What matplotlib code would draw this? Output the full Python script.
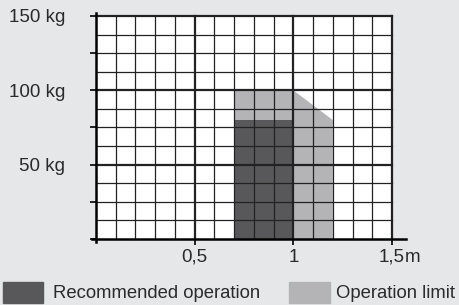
import numpy as np
import matplotlib
matplotlib.use('Agg')
import matplotlib.pyplot as plt
from matplotlib.patches import Rectangle

plt.rcParams['font.family'] = ['Liberation Sans', 'DejaVu Sans']

# data
rec_x = [0.7, 0.7, 1.0, 1.0]
rec_y = [0, 80, 80, 0]
lim_x = [0.7, 0.7, 1.0, 1.2, 1.2]
lim_y = [0, 100, 100, 80, 0]
y_ticks = [0, 25, 50, 75, 100, 125, 150]
y_labels = ['', '', '50 kg', '', '100 kg', '', '150 kg']
x_ticks = [0.5, 1.0, 1.5]
x_labels = ['0,5', '1', '1,5']

bg = '#e6e7e8'
c_rec = '#58585a'
c_lim = '#b4b4b6'
c_line = '#222222'
c_text = '#2a2a2a'

fig = plt.figure(figsize=(4.6, 3.05), dpi=100, facecolor=bg)
ax = fig.add_axes([96/460, 1-239/305, 296/460, 223/305])
ax.set_facecolor('white')
ax.set_xlim(0, 1.5)
ax.set_ylim(0, 150)

ax.fill(lim_x, lim_y, color=c_lim, lw=0, zorder=1)
ax.fill(rec_x, rec_y, color=c_rec, lw=0, zorder=2)

# grid: 0.1 m and 12.5 kg
for gx in np.arange(1, 16) / 10:
    major = abs(gx * 10 % 5) < 1e-6
    ax.plot([gx, gx], [0, 150], color=c_line, lw=1.6 if major else 0.9,
            zorder=3, clip_on=False)
for gy in np.arange(1, 13) * 12.5:
    major = gy % 50 == 0
    ax.plot([0, 1.5], [gy, gy], color=c_line, lw=1.6 if major else 0.9,
            zorder=3, clip_on=False)

# axes lines
for s in ax.spines.values():
    s.set_visible(False)
ax.plot([-0.02, 1.57], [0, 0], color='black', lw=1.8, zorder=4, clip_on=False)
ax.plot([0, 0], [-2, 152], color='black', lw=1.8, zorder=4, clip_on=False)

ax.set_yticks(y_ticks)
ax.set_yticklabels(y_labels)
ax.tick_params(axis='y', length=4, width=1.2, color='black', pad=18,
               labelsize=13.5, labelcolor=c_text)
ax.set_xticks(x_ticks)
ax.set_xticklabels(x_labels)
ax.tick_params(axis='x', length=4, width=1.2, color='black', pad=3,
               labelsize=13.5, labelcolor=c_text)
ax.annotate('m', xy=(1.5, 0), xytext=(9, -7.5), textcoords='offset points',
            ha='left', va='top', fontsize=13.5, color=c_text,
            annotation_clip=False)

# legend
fig.patches.append(Rectangle((3/460, 1-303/305), 40/460, 21/305,
                             transform=fig.transFigure, color=c_rec))
fig.text(53/460, 1-293/305, 'Recommended operation', fontsize=13.3,
         color=c_text, va='center')
fig.patches.append(Rectangle((289/460, 1-303/305), 41/460, 21/305,
                             transform=fig.transFigure, color=c_lim))
fig.text(336/460, 1-293/305, 'Operation limit', fontsize=13.3,
         color=c_text, va='center')

fig.savefig('out.png', dpi=100, facecolor=bg)
